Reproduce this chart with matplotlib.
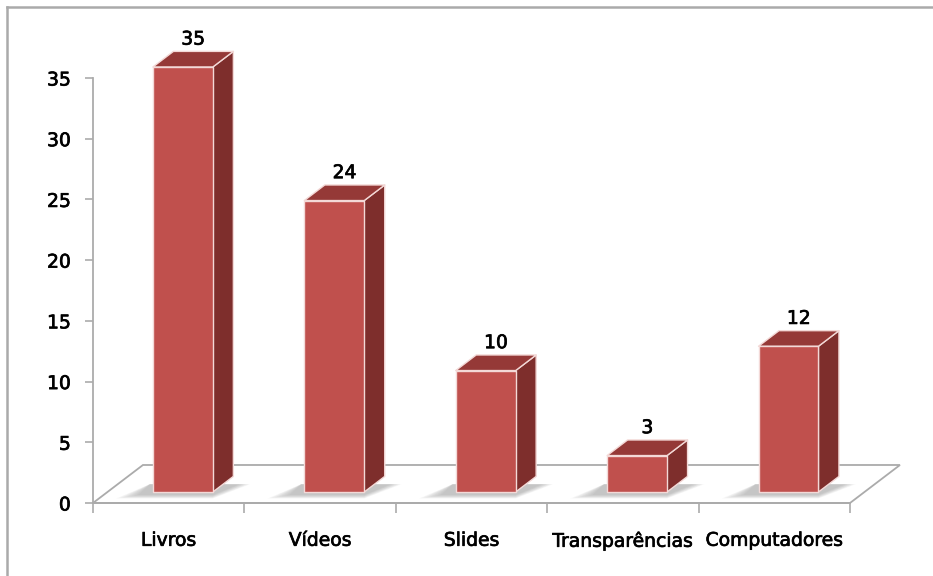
import numpy as np
import matplotlib.pyplot as plt
import matplotlib.patheffects as pe
from matplotlib.patches import Polygon
from matplotlib.lines import Line2D

categorias = ['Livros', 'Vídeos', 'Slides', 'Transparências', 'Computadores']
valores = [35, 24, 10, 3, 12]
yticks = [0, 5, 10, 15, 20, 25, 30, 35]

# 3d look: floor depth vector and bar placement (data units)
floor_dx, floor_dy = 0.33, 3.13
bar_front = 0.29        # fraction of floor depth in front of the bars
bar_depth = 0.41        # fraction of floor depth taken by a bar
bar_w = 0.396
bar_off = 0.30          # left edge of bar front inside its category

c_front = '#C0504D'
c_side = '#7E2E2C'
c_top = '#953937'
c_edge = '#F3D9D7'
c_grid = '#ABABAB'
thick = [pe.withStroke(linewidth=0.5, foreground='black')]

fig = plt.figure(figsize=(9.33, 5.76), dpi=100)
fig.patch.set_facecolor('white')
ax = fig.add_axes([93 / 933, 73 / 576, 757 / 933, 425 / 576])
ax.set_xlim(0, len(categorias))
ax.set_ylim(0, 35)

# floor
fl = [(0, 0), (len(categorias), 0),
      (len(categorias) + floor_dx, floor_dy), (floor_dx, floor_dy)]
ax.add_patch(Polygon(fl, closed=True, facecolor='white', edgecolor=c_grid,
                     lw=1.3, clip_on=False, zorder=1))

fx, fy = floor_dx * bar_front, floor_dy * bar_front
bx, by = floor_dx * bar_depth, floor_dy * bar_depth

for i, v in enumerate(valores):
    x0 = i + bar_off + fx
    x1 = x0 + bar_w
    y0 = fy
    y1 = fy + v

    # soft shadow on the floor
    for k in range(10):
        g = k * 0.016
        sh = [(x0 - 0.10 - g, y0 - 0.25 - g * 2), (x1, y0 - 0.25 - g * 2),
              (x1 + bx + 0.04 + g * 0.5, y0 + by * 0.5), (x0 - 0.02, y0 + by * 0.5)]
        ax.add_patch(Polygon(sh, closed=True, facecolor='#6A6A6A', edgecolor='none',
                             alpha=0.045, clip_on=False, zorder=2))

    front = [(x0, y0), (x1, y0), (x1, y1), (x0, y1)]
    side = [(x1, y0), (x1 + bx, y0 + by), (x1 + bx, y1 + by), (x1, y1)]
    top = [(x0, y1), (x1, y1), (x1 + bx, y1 + by), (x0 + bx, y1 + by)]
    for pts, col in [(side, c_side), (top, c_top), (front, c_front)]:
        ax.add_patch(Polygon(pts, closed=True, facecolor=col, edgecolor=c_edge,
                             lw=1.0, joinstyle='round', clip_on=False, zorder=3))

    ax.annotate(str(v), xy=((x0 + x1) / 2 + bx / 2, y1 + by), xytext=(0, 2),
                textcoords='offset points', ha='center', va='bottom',
                fontsize=13.5, color='black', annotation_clip=False,
                path_effects=thick)

for s in ['top', 'right']:
    ax.spines[s].set_visible(False)
ax.spines['left'].set_color(c_grid)
ax.spines['left'].set_linewidth(1.3)
ax.spines['bottom'].set_color(c_grid)
ax.spines['bottom'].set_linewidth(1.3)
ax.spines['bottom'].set_zorder(4)

ax.set_yticks(yticks)
ax.tick_params(axis='y', direction='out', length=6, width=1.2, color=c_grid,
               labelsize=13.5, pad=10)
ax.set_xticks(range(len(categorias) + 1))
ax.set_xticklabels([])
ax.tick_params(axis='x', which='major', direction='out', length=7, width=1.2,
               color=c_grid)
ax.set_xticks(np.arange(len(categorias)) + 0.5, minor=True)
ax.set_xticklabels(categorias, minor=True)
ax.tick_params(axis='x', which='minor', length=0, labelsize=13.5, pad=20)
for t in ax.get_yticklabels() + ax.get_xticklabels(minor=True):
    t.set_path_effects(thick)
ax.patch.set_alpha(0)

# outer frame
fig.add_artist(Line2D([7 / 933, 1], [1 - 7 / 576, 1 - 7 / 576],
                      transform=fig.transFigure, color='#AAAAAA', lw=1.8))
fig.add_artist(Line2D([7 / 933, 7 / 933], [0, 1 - 7 / 576],
                      transform=fig.transFigure, color='#AAAAAA', lw=1.8))

fig.savefig('out.png', dpi=100, facecolor='white')
